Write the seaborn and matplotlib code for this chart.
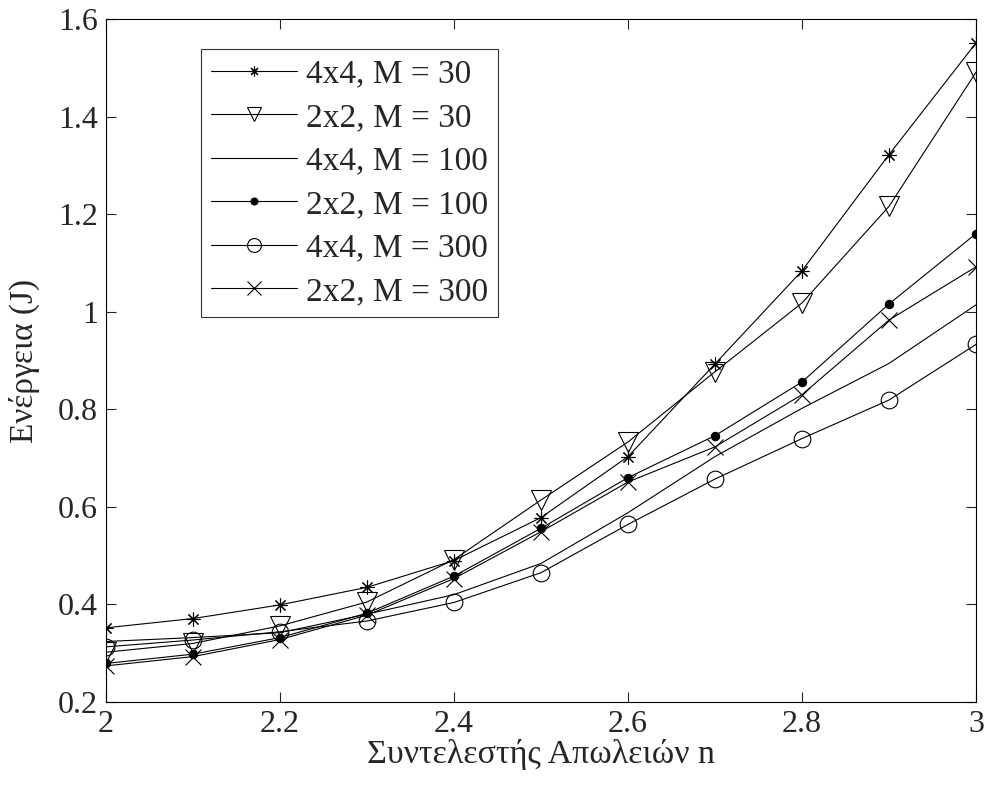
import numpy as np
import pandas as pd
import seaborn as sns
import matplotlib.pyplot as plt
from matplotlib.ticker import FuncFormatter

# loss exponent n
n_vals = [2.0, 2.1, 2.2, 2.3, 2.4, 2.5, 2.6, 2.7, 2.8, 2.9, 3.0]

# energy (J) per configuration
e_4x4_m30 = [0.352, 0.371, 0.399, 0.435, 0.490, 0.578, 0.703, 0.893, 1.084, 1.322, 1.551]
e_2x2_m30 = [0.302, 0.320, 0.356, 0.405, 0.492, 0.614, 0.733, 0.877, 1.018, 1.216, 1.491]
e_4x4_m100 = [0.324, 0.332, 0.342, 0.380, 0.420, 0.484, 0.588, 0.703, 0.802, 0.894, 1.014]
e_2x2_m100 = [0.279, 0.298, 0.332, 0.382, 0.458, 0.556, 0.660, 0.746, 0.856, 1.016, 1.160]
e_4x4_m300 = [0.313, 0.327, 0.344, 0.366, 0.404, 0.465, 0.564, 0.657, 0.740, 0.819, 0.933]
e_2x2_m300 = [0.274, 0.293, 0.328, 0.378, 0.453, 0.549, 0.651, 0.723, 0.830, 0.983, 1.092]

labels = ["4x4, M = 30", "2x2, M = 30", "4x4, M = 100",
          "2x2, M = 100", "4x4, M = 300", "2x2, M = 300"]
series = [e_4x4_m30, e_2x2_m30, e_4x4_m100, e_2x2_m100, e_4x4_m300, e_2x2_m300]

# marker style per series: (marker, size, facecolor, legend size)
styles = [
    ((8, 2, 0), 10, "k", 7),
    ("v", 14, "none", 10),
    ("", 0, "k", 0),
    ("o", 6, "k", 5),
    ("o", 12, "none", 10),
    ("x", 12, "k", 10),
]

sns.set_style("ticks")
plt.rcParams["font.family"] = ["Liberation Serif", "DejaVu Serif"]

fig = plt.figure(figsize=(9.84, 7.89), dpi=100)
ax = fig.add_axes([0.1077, 0.1103, 0.8842, 0.8656])

for lab, vals, (mk, ms, fc, _) in zip(labels, series, styles):
    df = pd.DataFrame({"n": n_vals, "E": vals})
    kw = dict(color="k", lw=0.8, label=lab)
    if mk:
        kw.update(marker=mk, markersize=ms, markerfacecolor=fc,
                  markeredgecolor="k", markeredgewidth=0.8)
    sns.lineplot(data=df, x="n", y="E", ax=ax, **kw)

ax.set_xlim(2, 3)
ax.set_ylim(0.2, 1.6)
ax.set_xticks(np.arange(2, 3.01, 0.2))
ax.set_yticks(np.arange(0.2, 1.61, 0.2))
ax.xaxis.set_major_formatter(FuncFormatter(lambda v, p: "%g" % round(v, 2)))
ax.yaxis.set_major_formatter(FuncFormatter(lambda v, p: "%g" % round(v, 2)))
ax.tick_params(direction="in", top=True, right=True, length=7, width=0.8,
               labelsize=23, pad=6)
for s in ax.spines.values():
    s.set_linewidth(0.8)
    s.set_color("k")

ax.set_xlabel("Συντελεστής Απωλειών n", fontsize=24.5, labelpad=0)
ax.set_ylabel("Ενέργεια (J)", fontsize=24, labelpad=13)

leg = ax.legend(loc="upper left", bbox_to_anchor=(0.109, 0.956),
                borderaxespad=0, fontsize=24, frameon=True, fancybox=False,
                edgecolor="k", handlelength=2.6, labelspacing=0.39,
                handletextpad=0.25, borderpad=0.3)
leg.get_frame().set_linewidth(0.8)
for h, (_, _, _, lms) in zip(leg.legend_handles, styles):
    h.set_markersize(lms)

fig.savefig("out.png", dpi=100)
